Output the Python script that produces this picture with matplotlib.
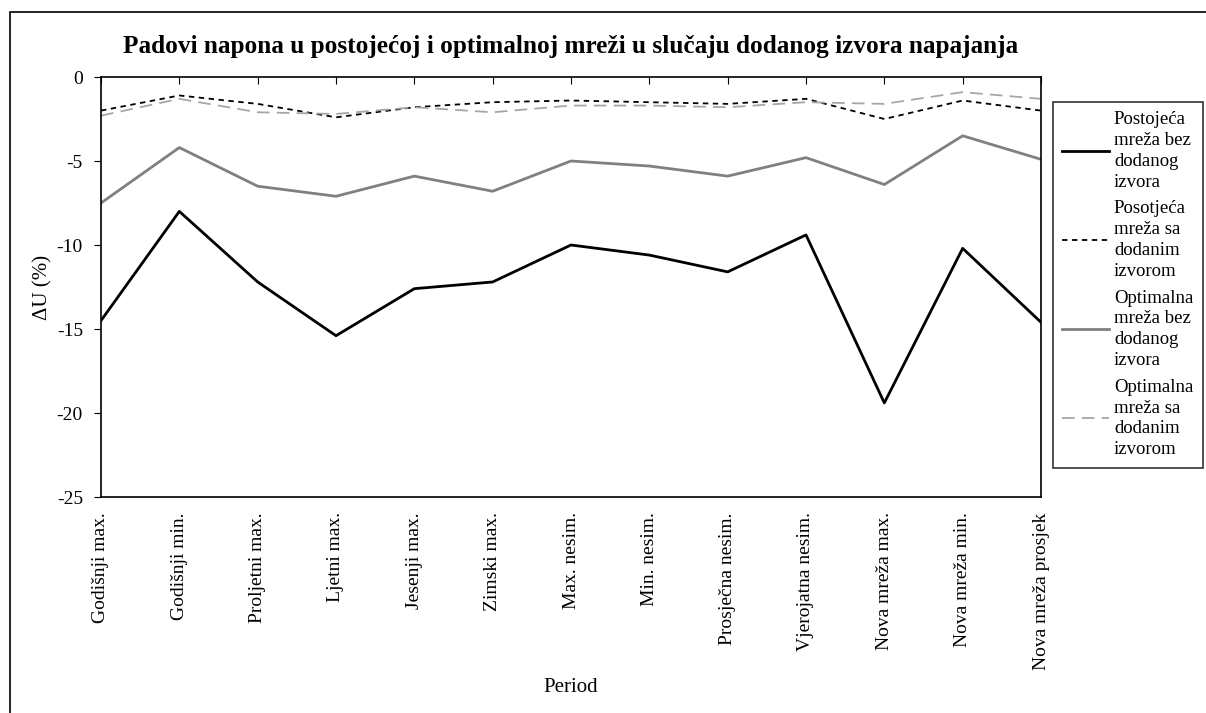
import matplotlib.pyplot as plt
import numpy as np
from matplotlib.patches import Rectangle

periods = ["Godišnji max.", "Godišnji min.", "Proljetni max.", "Ljetni max.",
           "Jesenji max.", "Zimski max.", "Max. nesim.", "Min. nesim.",
           "Prosječna nesim.", "Vjerojatna nesim.", "Nova mreža max.",
           "Nova mreža min.", "Nova mreža prosjek"]

postojeca_bez = [-14.5, -8.0, -12.2, -15.4, -12.6, -12.2, -10.0, -10.6, -11.6, -9.4, -19.4, -10.2, -14.6]
postojeca_sa = [-2.0, -1.1, -1.6, -2.4, -1.8, -1.5, -1.4, -1.5, -1.6, -1.3, -2.5, -1.4, -2.0]
optimalna_bez = [-7.5, -4.2, -6.5, -7.1, -5.9, -6.8, -5.0, -5.3, -5.9, -4.8, -6.4, -3.5, -4.9]
optimalna_sa = [-2.3, -1.3, -2.1, -2.2, -1.8, -2.1, -1.7, -1.7, -1.8, -1.5, -1.6, -0.9, -1.3]

labels = ["Postojeća\nmreža bez\ndodanog\nizvora",
          "Posotjeća\nmreža sa\ndodanim\nizvorom",
          "Optimalna\nmreža bez\ndodanog\nizvora",
          "Optimalna\nmreža sa\ndodanim\nizvorom"]

plt.rcParams['font.family'] = ['Liberation Serif', 'DejaVu Serif']
plt.rcParams['axes.unicode_minus'] = False

fig = plt.figure(figsize=(12.06, 7.13), dpi=100)
ax = fig.add_axes([101/1206, 1 - 497/713, 940/1206, 420/713])

xpos = np.arange(len(periods))
ax.plot(xpos, postojeca_bez, color='black', lw=2, label=labels[0])
ax.plot(xpos, postojeca_sa, color='black', lw=1.3, dashes=(3, 2.5), label=labels[1])
ax.plot(xpos, optimalna_bez, color='#808080', lw=2, label=labels[2])
ax.plot(xpos, optimalna_sa, color='#a6a6a6', lw=1.3, dashes=(7, 4), label=labels[3])

ax.set_xlim(0, 12)
ax.set_ylim(-25, 0)
ax.set_yticks([0, -5, -10, -15, -20, -25])
ax.set_xticks(xpos)
ax.set_xticklabels(periods, rotation=90, fontsize=14)
ax.tick_params(axis='x', top=True, bottom=False, labelbottom=True, direction='in', length=5, pad=11)
ax.tick_params(axis='y', direction='out', length=5, labelsize=14, pad=8)
for s in ax.spines.values():
    s.set_linewidth(1.2)

ax.set_xlabel("Period", fontsize=15, labelpad=6)
ax.set_ylabel("ΔU (%)", fontsize=15, labelpad=3)
ax.set_title("Padovi napona u postojećoj i optimalnoj mreži u slučaju dodanog izvora napajanja",
             fontsize=18.2, fontweight='bold', pad=17)

leg = ax.legend(loc='upper left', bbox_to_anchor=(1053/1206, 1 - 102/713),
                bbox_transform=fig.transFigure, fontsize=13.5, frameon=True,
                fancybox=False, edgecolor='black', handlelength=2.5,
                handletextpad=0.25, labelspacing=0.5, borderaxespad=0,
                borderpad=0.5)
leg.get_frame().set_linewidth(1.2)
for t in leg.get_texts():
    t.set_linespacing(1.3)

fig.patches.append(Rectangle((10/1206, -0.1), 1.2, 1 - 12/713 + 0.1, transform=fig.transFigure,
                             fill=False, edgecolor='black', lw=1.2))

fig.savefig("out.png", dpi=100)
